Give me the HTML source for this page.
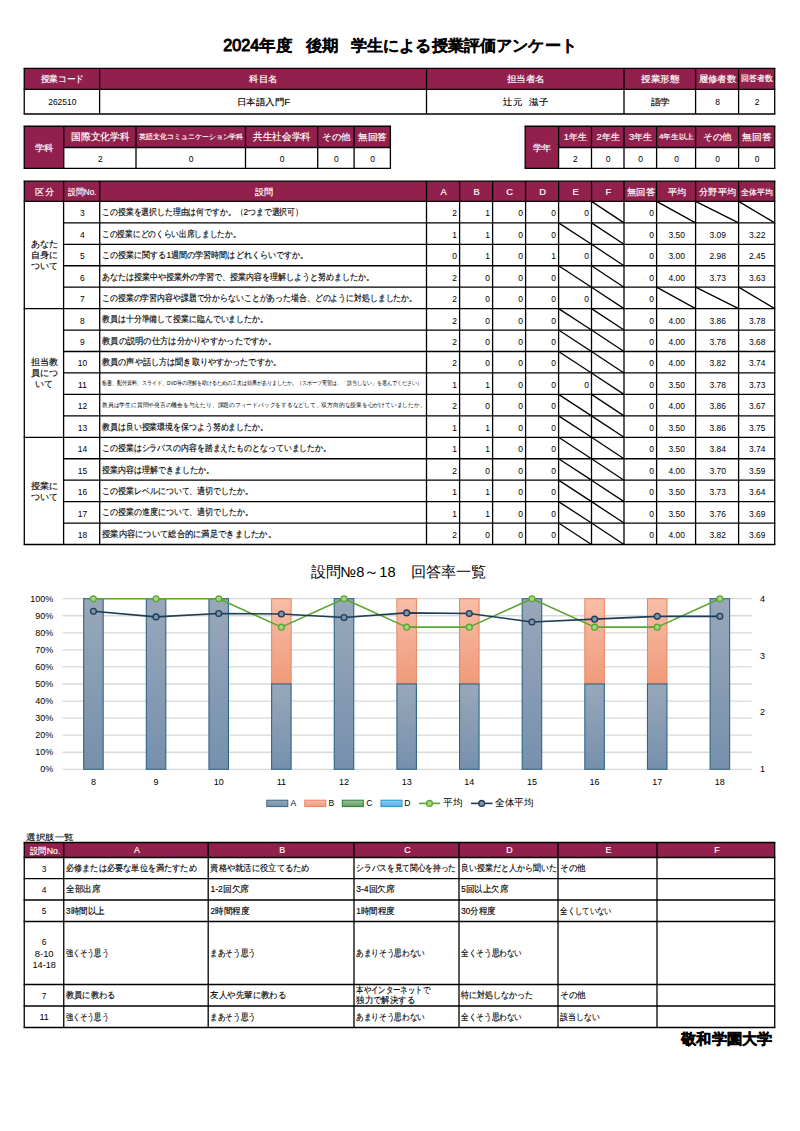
<!DOCTYPE html>
<html lang="ja">
<head>
<meta charset="utf-8">
<title>2024年度 後期 学生による授業評価アンケート</title>
<style>html,body{margin:0;padding:0;background:#fff}body{width:800px;height:1131px;overflow:hidden;font-family:"Liberation Sans",sans-serif}svg{display:block;position:absolute;left:0;top:0}text{font-family:"Liberation Sans",sans-serif;fill:#000;white-space:pre}text{stroke:#000;stroke-width:.14px}text.w{fill:#fff;stroke:#fff;stroke-width:.18px}text.b{stroke-width:1px;stroke-linejoin:round}text.b2{stroke-width:1.2px;stroke-linejoin:round}text.n{stroke:none}</style>
</head>
<body>
<svg width="800" height="1131" viewBox="0 0 800 1131">
<rect x="24.25" y="68.3" width="750.45" height="21.1" fill="#92204c"/>
<line x1="24.25" y1="68.3" x2="24.25" y2="114" stroke="#000" stroke-width="1.3"/>
<line x1="99.6" y1="68.3" x2="99.6" y2="114" stroke="#000" stroke-width="1.3"/>
<line x1="426.5" y1="68.3" x2="426.5" y2="114" stroke="#000" stroke-width="1.3"/>
<line x1="624" y1="68.3" x2="624" y2="114" stroke="#000" stroke-width="1.3"/>
<line x1="695.6" y1="68.3" x2="695.6" y2="114" stroke="#000" stroke-width="1.3"/>
<line x1="738.6" y1="68.3" x2="738.6" y2="114" stroke="#000" stroke-width="1.3"/>
<line x1="774.7" y1="68.3" x2="774.7" y2="114" stroke="#000" stroke-width="1.3"/>
<line x1="23.6" y1="68.3" x2="775.35" y2="68.3" stroke="#000" stroke-width="1.3"/>
<line x1="23.6" y1="89.4" x2="775.35" y2="89.4" stroke="#000" stroke-width="1.3"/>
<line x1="23.6" y1="114" x2="775.35" y2="114" stroke="#000" stroke-width="1.3"/>
<rect x="24.25" y="126.25" width="39.5" height="42.05" fill="#92204c"/>
<rect x="63.75" y="126.25" width="326.65" height="21.25" fill="#92204c"/>
<line x1="24.25" y1="126.25" x2="24.25" y2="168.3" stroke="#000" stroke-width="1.3"/>
<line x1="63.75" y1="126.25" x2="63.75" y2="168.3" stroke="#000" stroke-width="1.3"/>
<line x1="136" y1="126.25" x2="136" y2="168.3" stroke="#000" stroke-width="1.3"/>
<line x1="245.5" y1="126.25" x2="245.5" y2="168.3" stroke="#000" stroke-width="1.3"/>
<line x1="317.7" y1="126.25" x2="317.7" y2="168.3" stroke="#000" stroke-width="1.3"/>
<line x1="354.1" y1="126.25" x2="354.1" y2="168.3" stroke="#000" stroke-width="1.3"/>
<line x1="390.4" y1="126.25" x2="390.4" y2="168.3" stroke="#000" stroke-width="1.3"/>
<line x1="23.6" y1="126.25" x2="391.05" y2="126.25" stroke="#000" stroke-width="1.3"/>
<line x1="23.6" y1="168.3" x2="391.05" y2="168.3" stroke="#000" stroke-width="1.3"/>
<line x1="63.75" y1="147.5" x2="390.4" y2="147.5" stroke="#000" stroke-width="1.3"/>
<rect x="525.2" y="126.25" width="33.4" height="42.05" fill="#92204c"/>
<rect x="558.6" y="126.25" width="216.1" height="21.25" fill="#92204c"/>
<line x1="525.2" y1="126.25" x2="525.2" y2="168.3" stroke="#000" stroke-width="1.3"/>
<line x1="558.6" y1="126.25" x2="558.6" y2="168.3" stroke="#000" stroke-width="1.3"/>
<line x1="591.5" y1="126.25" x2="591.5" y2="168.3" stroke="#000" stroke-width="1.3"/>
<line x1="624" y1="126.25" x2="624" y2="168.3" stroke="#000" stroke-width="1.3"/>
<line x1="656.6" y1="126.25" x2="656.6" y2="168.3" stroke="#000" stroke-width="1.3"/>
<line x1="695.6" y1="126.25" x2="695.6" y2="168.3" stroke="#000" stroke-width="1.3"/>
<line x1="738.6" y1="126.25" x2="738.6" y2="168.3" stroke="#000" stroke-width="1.3"/>
<line x1="774.7" y1="126.25" x2="774.7" y2="168.3" stroke="#000" stroke-width="1.3"/>
<line x1="524.55" y1="126.25" x2="775.35" y2="126.25" stroke="#000" stroke-width="1.3"/>
<line x1="524.55" y1="168.3" x2="775.35" y2="168.3" stroke="#000" stroke-width="1.3"/>
<line x1="558.6" y1="147.5" x2="774.7" y2="147.5" stroke="#000" stroke-width="1.3"/>
<rect x="24.3" y="181.1" width="750.4" height="20.3" fill="#92204c"/>
<line x1="24.3" y1="181.1" x2="24.3" y2="544.5" stroke="#000" stroke-width="1.3"/>
<line x1="63.6" y1="181.1" x2="63.6" y2="544.5" stroke="#000" stroke-width="1.3"/>
<line x1="99.7" y1="181.1" x2="99.7" y2="544.5" stroke="#000" stroke-width="1.3"/>
<line x1="426.5" y1="181.1" x2="426.5" y2="544.5" stroke="#000" stroke-width="1.3"/>
<line x1="459.6" y1="181.1" x2="459.6" y2="544.5" stroke="#000" stroke-width="1.3"/>
<line x1="492.6" y1="181.1" x2="492.6" y2="544.5" stroke="#000" stroke-width="1.3"/>
<line x1="525.6" y1="181.1" x2="525.6" y2="544.5" stroke="#000" stroke-width="1.3"/>
<line x1="558.6" y1="181.1" x2="558.6" y2="544.5" stroke="#000" stroke-width="1.3"/>
<line x1="591.5" y1="181.1" x2="591.5" y2="544.5" stroke="#000" stroke-width="1.3"/>
<line x1="624" y1="181.1" x2="624" y2="544.5" stroke="#000" stroke-width="1.3"/>
<line x1="656.6" y1="181.1" x2="656.6" y2="544.5" stroke="#000" stroke-width="1.3"/>
<line x1="695.6" y1="181.1" x2="695.6" y2="544.5" stroke="#000" stroke-width="1.3"/>
<line x1="738.6" y1="181.1" x2="738.6" y2="544.5" stroke="#000" stroke-width="1.3"/>
<line x1="774.7" y1="181.1" x2="774.7" y2="544.5" stroke="#000" stroke-width="1.3"/>
<line x1="23.65" y1="181.1" x2="775.35" y2="181.1" stroke="#000" stroke-width="1.3"/>
<line x1="23.65" y1="201.4" x2="775.35" y2="201.4" stroke="#000" stroke-width="1.3"/>
<line x1="63.6" y1="222.844" x2="775.35" y2="222.844" stroke="#000" stroke-width="1.3"/>
<line x1="63.6" y1="244.288" x2="775.35" y2="244.288" stroke="#000" stroke-width="1.3"/>
<line x1="63.6" y1="265.731" x2="775.35" y2="265.731" stroke="#000" stroke-width="1.3"/>
<line x1="63.6" y1="287.175" x2="775.35" y2="287.175" stroke="#000" stroke-width="1.3"/>
<line x1="23.65" y1="308.619" x2="775.35" y2="308.619" stroke="#000" stroke-width="1.3"/>
<line x1="63.6" y1="330.062" x2="775.35" y2="330.062" stroke="#000" stroke-width="1.3"/>
<line x1="63.6" y1="351.506" x2="775.35" y2="351.506" stroke="#000" stroke-width="1.3"/>
<line x1="63.6" y1="372.95" x2="775.35" y2="372.95" stroke="#000" stroke-width="1.3"/>
<line x1="63.6" y1="394.394" x2="775.35" y2="394.394" stroke="#000" stroke-width="1.3"/>
<line x1="63.6" y1="415.837" x2="775.35" y2="415.837" stroke="#000" stroke-width="1.3"/>
<line x1="23.65" y1="437.281" x2="775.35" y2="437.281" stroke="#000" stroke-width="1.3"/>
<line x1="63.6" y1="458.725" x2="775.35" y2="458.725" stroke="#000" stroke-width="1.3"/>
<line x1="63.6" y1="480.169" x2="775.35" y2="480.169" stroke="#000" stroke-width="1.3"/>
<line x1="63.6" y1="501.613" x2="775.35" y2="501.613" stroke="#000" stroke-width="1.3"/>
<line x1="63.6" y1="523.056" x2="775.35" y2="523.056" stroke="#000" stroke-width="1.3"/>
<line x1="23.65" y1="544.5" x2="775.35" y2="544.5" stroke="#000" stroke-width="1.3"/>
<line x1="591.5" y1="201.4" x2="624" y2="222.844" stroke="#000" stroke-width="1.3"/>
<line x1="656.6" y1="201.4" x2="695.6" y2="222.844" stroke="#000" stroke-width="1.3"/>
<line x1="695.6" y1="201.4" x2="738.6" y2="222.844" stroke="#000" stroke-width="1.3"/>
<line x1="738.6" y1="201.4" x2="774.7" y2="222.844" stroke="#000" stroke-width="1.3"/>
<line x1="558.6" y1="222.844" x2="591.5" y2="244.288" stroke="#000" stroke-width="1.3"/>
<line x1="591.5" y1="222.844" x2="624" y2="244.288" stroke="#000" stroke-width="1.3"/>
<line x1="591.5" y1="244.288" x2="624" y2="265.731" stroke="#000" stroke-width="1.3"/>
<line x1="558.6" y1="265.731" x2="591.5" y2="287.175" stroke="#000" stroke-width="1.3"/>
<line x1="591.5" y1="265.731" x2="624" y2="287.175" stroke="#000" stroke-width="1.3"/>
<line x1="591.5" y1="287.175" x2="624" y2="308.619" stroke="#000" stroke-width="1.3"/>
<line x1="656.6" y1="287.175" x2="695.6" y2="308.619" stroke="#000" stroke-width="1.3"/>
<line x1="695.6" y1="287.175" x2="738.6" y2="308.619" stroke="#000" stroke-width="1.3"/>
<line x1="738.6" y1="287.175" x2="774.7" y2="308.619" stroke="#000" stroke-width="1.3"/>
<line x1="558.6" y1="308.619" x2="591.5" y2="330.062" stroke="#000" stroke-width="1.3"/>
<line x1="591.5" y1="308.619" x2="624" y2="330.062" stroke="#000" stroke-width="1.3"/>
<line x1="558.6" y1="330.062" x2="591.5" y2="351.506" stroke="#000" stroke-width="1.3"/>
<line x1="591.5" y1="330.062" x2="624" y2="351.506" stroke="#000" stroke-width="1.3"/>
<line x1="558.6" y1="351.506" x2="591.5" y2="372.95" stroke="#000" stroke-width="1.3"/>
<line x1="591.5" y1="351.506" x2="624" y2="372.95" stroke="#000" stroke-width="1.3"/>
<line x1="591.5" y1="372.95" x2="624" y2="394.394" stroke="#000" stroke-width="1.3"/>
<line x1="558.6" y1="394.394" x2="591.5" y2="415.837" stroke="#000" stroke-width="1.3"/>
<line x1="591.5" y1="394.394" x2="624" y2="415.837" stroke="#000" stroke-width="1.3"/>
<line x1="558.6" y1="415.837" x2="591.5" y2="437.281" stroke="#000" stroke-width="1.3"/>
<line x1="591.5" y1="415.837" x2="624" y2="437.281" stroke="#000" stroke-width="1.3"/>
<line x1="558.6" y1="437.281" x2="591.5" y2="458.725" stroke="#000" stroke-width="1.3"/>
<line x1="591.5" y1="437.281" x2="624" y2="458.725" stroke="#000" stroke-width="1.3"/>
<line x1="558.6" y1="458.725" x2="591.5" y2="480.169" stroke="#000" stroke-width="1.3"/>
<line x1="591.5" y1="458.725" x2="624" y2="480.169" stroke="#000" stroke-width="1.3"/>
<line x1="558.6" y1="480.169" x2="591.5" y2="501.613" stroke="#000" stroke-width="1.3"/>
<line x1="591.5" y1="480.169" x2="624" y2="501.613" stroke="#000" stroke-width="1.3"/>
<line x1="558.6" y1="501.613" x2="591.5" y2="523.056" stroke="#000" stroke-width="1.3"/>
<line x1="591.5" y1="501.613" x2="624" y2="523.056" stroke="#000" stroke-width="1.3"/>
<line x1="558.6" y1="523.056" x2="591.5" y2="544.5" stroke="#000" stroke-width="1.3"/>
<line x1="591.5" y1="523.056" x2="624" y2="544.5" stroke="#000" stroke-width="1.3"/>
<defs><linearGradient id="gA" x1="0" y1="0" x2="0" y2="1"><stop offset="0" stop-color="#98a8ba"/><stop offset="1" stop-color="#7690ac"/></linearGradient><linearGradient id="gB" x1="0" y1="0" x2="0" y2="1"><stop offset="0" stop-color="#f8bea8"/><stop offset="1" stop-color="#ef9a7a"/></linearGradient><linearGradient id="gC" x1="0" y1="0" x2="0" y2="1"><stop offset="0" stop-color="#9cc79a"/><stop offset="1" stop-color="#5f9a60"/></linearGradient><linearGradient id="gD" x1="0" y1="0" x2="0" y2="1"><stop offset="0" stop-color="#8fd0f5"/><stop offset="1" stop-color="#4fb0ea"/></linearGradient></defs>
<line x1="62.4" y1="769.3" x2="751.8" y2="769.3" stroke="#d9d9d9" stroke-width="1.3"/>
<line x1="62.4" y1="752.24" x2="751.8" y2="752.24" stroke="#d9d9d9" stroke-width="1.3"/>
<line x1="62.4" y1="735.18" x2="751.8" y2="735.18" stroke="#d9d9d9" stroke-width="1.3"/>
<line x1="62.4" y1="718.12" x2="751.8" y2="718.12" stroke="#d9d9d9" stroke-width="1.3"/>
<line x1="62.4" y1="701.06" x2="751.8" y2="701.06" stroke="#d9d9d9" stroke-width="1.3"/>
<line x1="62.4" y1="684" x2="751.8" y2="684" stroke="#d9d9d9" stroke-width="1.3"/>
<line x1="62.4" y1="666.94" x2="751.8" y2="666.94" stroke="#d9d9d9" stroke-width="1.3"/>
<line x1="62.4" y1="649.88" x2="751.8" y2="649.88" stroke="#d9d9d9" stroke-width="1.3"/>
<line x1="62.4" y1="632.82" x2="751.8" y2="632.82" stroke="#d9d9d9" stroke-width="1.3"/>
<line x1="62.4" y1="615.76" x2="751.8" y2="615.76" stroke="#d9d9d9" stroke-width="1.3"/>
<line x1="62.4" y1="598.7" x2="751.8" y2="598.7" stroke="#d9d9d9" stroke-width="1.3"/>
<rect x="83.67" y="598.70" width="19.5" height="170.60" fill="url(#gA)" stroke="#2f6488" stroke-width="1.1"/>
<rect x="146.32" y="598.70" width="19.5" height="170.60" fill="url(#gA)" stroke="#2f6488" stroke-width="1.1"/>
<rect x="208.96" y="598.70" width="19.5" height="170.60" fill="url(#gA)" stroke="#2f6488" stroke-width="1.1"/>
<rect x="271.61" y="598.7" width="19.5" height="85.30" fill="url(#gB)" stroke="#e9825c" stroke-width="1"/>
<rect x="271.61" y="684.00" width="19.5" height="85.30" fill="url(#gA)" stroke="#2f6488" stroke-width="1.1"/>
<rect x="334.25" y="598.70" width="19.5" height="170.60" fill="url(#gA)" stroke="#2f6488" stroke-width="1.1"/>
<rect x="396.90" y="598.7" width="19.5" height="85.30" fill="url(#gB)" stroke="#e9825c" stroke-width="1"/>
<rect x="396.90" y="684.00" width="19.5" height="85.30" fill="url(#gA)" stroke="#2f6488" stroke-width="1.1"/>
<rect x="459.55" y="598.7" width="19.5" height="85.30" fill="url(#gB)" stroke="#e9825c" stroke-width="1"/>
<rect x="459.55" y="684.00" width="19.5" height="85.30" fill="url(#gA)" stroke="#2f6488" stroke-width="1.1"/>
<rect x="522.19" y="598.70" width="19.5" height="170.60" fill="url(#gA)" stroke="#2f6488" stroke-width="1.1"/>
<rect x="584.84" y="598.7" width="19.5" height="85.30" fill="url(#gB)" stroke="#e9825c" stroke-width="1"/>
<rect x="584.84" y="684.00" width="19.5" height="85.30" fill="url(#gA)" stroke="#2f6488" stroke-width="1.1"/>
<rect x="647.48" y="598.7" width="19.5" height="85.30" fill="url(#gB)" stroke="#e9825c" stroke-width="1"/>
<rect x="647.48" y="684.00" width="19.5" height="85.30" fill="url(#gA)" stroke="#2f6488" stroke-width="1.1"/>
<rect x="710.13" y="598.70" width="19.5" height="170.60" fill="url(#gA)" stroke="#2f6488" stroke-width="1.1"/>
<polyline points="93.42,598.70 156.07,598.70 218.71,598.70 281.36,627.13 344.00,598.70 406.65,627.13 469.30,627.13 531.94,598.70 594.59,627.13 657.23,627.13 719.88,598.70" fill="none" stroke="#5aa532" stroke-width="1.6" stroke-linejoin="round"/>
<polyline points="93.42,611.21 156.07,616.90 218.71,613.49 281.36,614.05 344.00,617.47 406.65,612.92 469.30,613.49 531.94,622.02 594.59,619.17 657.23,616.33 719.88,616.33" fill="none" stroke="#1d3c57" stroke-width="1.6" stroke-linejoin="round"/>
<circle cx="93.42" cy="598.70" r="2.9" fill="#a6d77b" stroke="#5aa532" stroke-width="1.3"/>
<circle cx="156.07" cy="598.70" r="2.9" fill="#a6d77b" stroke="#5aa532" stroke-width="1.3"/>
<circle cx="218.71" cy="598.70" r="2.9" fill="#a6d77b" stroke="#5aa532" stroke-width="1.3"/>
<circle cx="281.36" cy="627.13" r="2.9" fill="#a6d77b" stroke="#5aa532" stroke-width="1.3"/>
<circle cx="344.00" cy="598.70" r="2.9" fill="#a6d77b" stroke="#5aa532" stroke-width="1.3"/>
<circle cx="406.65" cy="627.13" r="2.9" fill="#a6d77b" stroke="#5aa532" stroke-width="1.3"/>
<circle cx="469.30" cy="627.13" r="2.9" fill="#a6d77b" stroke="#5aa532" stroke-width="1.3"/>
<circle cx="531.94" cy="598.70" r="2.9" fill="#a6d77b" stroke="#5aa532" stroke-width="1.3"/>
<circle cx="594.59" cy="627.13" r="2.9" fill="#a6d77b" stroke="#5aa532" stroke-width="1.3"/>
<circle cx="657.23" cy="627.13" r="2.9" fill="#a6d77b" stroke="#5aa532" stroke-width="1.3"/>
<circle cx="719.88" cy="598.70" r="2.9" fill="#a6d77b" stroke="#5aa532" stroke-width="1.3"/>
<circle cx="93.42" cy="611.21" r="2.9" fill="#7f93a8" stroke="#1d3c57" stroke-width="1.3"/>
<circle cx="156.07" cy="616.90" r="2.9" fill="#7f93a8" stroke="#1d3c57" stroke-width="1.3"/>
<circle cx="218.71" cy="613.49" r="2.9" fill="#7f93a8" stroke="#1d3c57" stroke-width="1.3"/>
<circle cx="281.36" cy="614.05" r="2.9" fill="#7f93a8" stroke="#1d3c57" stroke-width="1.3"/>
<circle cx="344.00" cy="617.47" r="2.9" fill="#7f93a8" stroke="#1d3c57" stroke-width="1.3"/>
<circle cx="406.65" cy="612.92" r="2.9" fill="#7f93a8" stroke="#1d3c57" stroke-width="1.3"/>
<circle cx="469.30" cy="613.49" r="2.9" fill="#7f93a8" stroke="#1d3c57" stroke-width="1.3"/>
<circle cx="531.94" cy="622.02" r="2.9" fill="#7f93a8" stroke="#1d3c57" stroke-width="1.3"/>
<circle cx="594.59" cy="619.17" r="2.9" fill="#7f93a8" stroke="#1d3c57" stroke-width="1.3"/>
<circle cx="657.23" cy="616.33" r="2.9" fill="#7f93a8" stroke="#1d3c57" stroke-width="1.3"/>
<circle cx="719.88" cy="616.33" r="2.9" fill="#7f93a8" stroke="#1d3c57" stroke-width="1.3"/>
<rect x="266.8" y="800.2" width="21" height="6.4" fill="url(#gA)" stroke="#2f6b8e" stroke-width="1"/>
<rect x="304.8" y="800.2" width="21" height="6.4" fill="url(#gB)" stroke="#e9825c" stroke-width="1"/>
<rect x="342.3" y="800.2" width="21" height="6.4" fill="url(#gC)" stroke="#2f7a3a" stroke-width="1"/>
<rect x="381" y="800.2" width="21" height="6.4" fill="url(#gD)" stroke="#2a8fd0" stroke-width="1"/>
<line x1="419" y1="803.4" x2="440" y2="803.4" stroke="#5aa532" stroke-width="1.6"/>
<circle cx="429.5" cy="803.4" r="2.9" fill="#a6d77b" stroke="#5aa532" stroke-width="1.3"/>
<line x1="471" y1="803.4" x2="492.5" y2="803.4" stroke="#1d3c57" stroke-width="1.6"/>
<circle cx="481.7" cy="803.4" r="2.9" fill="#7f93a8" stroke="#1d3c57" stroke-width="1.3"/>
<rect x="24.25" y="842.5" width="750.45" height="15" fill="#92204c"/>
<line x1="24.25" y1="842.5" x2="24.25" y2="1027.5" stroke="#000" stroke-width="1.3"/>
<line x1="63.75" y1="842.5" x2="63.75" y2="1027.5" stroke="#000" stroke-width="1.3"/>
<line x1="208.2" y1="842.5" x2="208.2" y2="1027.5" stroke="#000" stroke-width="1.3"/>
<line x1="354" y1="842.5" x2="354" y2="1027.5" stroke="#000" stroke-width="1.3"/>
<line x1="459" y1="842.5" x2="459" y2="1027.5" stroke="#000" stroke-width="1.3"/>
<line x1="558" y1="842.5" x2="558" y2="1027.5" stroke="#000" stroke-width="1.3"/>
<line x1="657" y1="842.5" x2="657" y2="1027.5" stroke="#000" stroke-width="1.3"/>
<line x1="774.7" y1="842.5" x2="774.7" y2="1027.5" stroke="#000" stroke-width="1.3"/>
<line x1="23.6" y1="842.5" x2="775.35" y2="842.5" stroke="#000" stroke-width="1.3"/>
<line x1="23.6" y1="857.5" x2="775.35" y2="857.5" stroke="#000" stroke-width="1.3"/>
<line x1="23.6" y1="878.7" x2="775.35" y2="878.7" stroke="#000" stroke-width="1.3"/>
<line x1="23.6" y1="900" x2="775.35" y2="900" stroke="#000" stroke-width="1.3"/>
<line x1="23.6" y1="921.5" x2="775.35" y2="921.5" stroke="#000" stroke-width="1.3"/>
<line x1="23.6" y1="984.5" x2="775.35" y2="984.5" stroke="#000" stroke-width="1.3"/>
<line x1="23.6" y1="1006" x2="775.35" y2="1006" stroke="#000" stroke-width="1.3"/>
<line x1="23.6" y1="1027.5" x2="775.35" y2="1027.5" stroke="#000" stroke-width="1.3"/>
<text x="223.30" y="50.74" font-size="16" textLength="36.0" lengthAdjust="spacingAndGlyphs" class="b">2024</text>
<text x="259.30" y="50.74" font-size="16" textLength="33.0" lengthAdjust="spacingAndGlyphs" class="b">年度</text>
<text x="305.80" y="50.74" font-size="16" textLength="33.0" lengthAdjust="spacingAndGlyphs" class="b">後期</text>
<text x="350.80" y="50.74" font-size="16" textLength="226.0" lengthAdjust="spacingAndGlyphs" class="b">学生による授業評価アンケート</text>
<text x="62.32" y="81.95" font-size="9.4" text-anchor="middle" textLength="43.3" lengthAdjust="spacingAndGlyphs" class="w">授業コード</text>
<text x="263.45" y="81.95" font-size="9.4" text-anchor="middle" textLength="28.2" lengthAdjust="spacingAndGlyphs" class="w">科目名</text>
<text x="525.65" y="81.95" font-size="9.4" text-anchor="middle" textLength="38.3" lengthAdjust="spacingAndGlyphs" class="w">担当者名</text>
<text x="660.20" y="81.95" font-size="9.4" text-anchor="middle" textLength="38.3" lengthAdjust="spacingAndGlyphs" class="w">授業形態</text>
<text x="717.50" y="81.95" font-size="9.4" text-anchor="middle" textLength="37.8" lengthAdjust="spacingAndGlyphs" class="w">履修者数</text>
<text x="757.05" y="81.40" font-size="7.8" text-anchor="middle" textLength="31.6" lengthAdjust="spacingAndGlyphs" class="w">回答者数</text>
<text x="62.32" y="105.00" font-size="9.4" text-anchor="middle" textLength="28.2" lengthAdjust="spacingAndGlyphs" class="n">262510</text>
<text x="263.65" y="105.00" font-size="9.4" text-anchor="middle" textLength="53.3" lengthAdjust="spacingAndGlyphs">日本語入門F</text>
<text x="503.20" y="105.00" font-size="9.4" textLength="18.8" lengthAdjust="spacingAndGlyphs">辻元</text>
<text x="529.20" y="105.00" font-size="9.4" textLength="18.8" lengthAdjust="spacingAndGlyphs">滋子</text>
<text x="660.40" y="105.00" font-size="9.4" text-anchor="middle" textLength="19.6" lengthAdjust="spacingAndGlyphs">語学</text>
<text x="717.70" y="105.00" font-size="9.4" text-anchor="middle" textLength="4.7" lengthAdjust="spacingAndGlyphs" class="n">8</text>
<text x="757.05" y="105.00" font-size="9.4" text-anchor="middle" textLength="4.7" lengthAdjust="spacingAndGlyphs" class="n">2</text>
<text x="44.50" y="150.57" font-size="9.4" text-anchor="middle" textLength="18.8" lengthAdjust="spacingAndGlyphs" class="w">学科</text>
<text x="100.28" y="140.04" font-size="9.6" text-anchor="middle" textLength="58.2" lengthAdjust="spacingAndGlyphs" class="w">国際文化学科</text>
<text x="100.28" y="161.70" font-size="9.4" text-anchor="middle" textLength="4.7" lengthAdjust="spacingAndGlyphs" class="n">2</text>
<text x="191.15" y="139.29" font-size="7.4" text-anchor="middle" textLength="104.6" lengthAdjust="spacingAndGlyphs" class="w">英語文化コミュニケーション学科</text>
<text x="191.15" y="161.70" font-size="9.4" text-anchor="middle" textLength="4.7" lengthAdjust="spacingAndGlyphs" class="n">0</text>
<text x="282.00" y="140.00" font-size="9.5" text-anchor="middle" textLength="57.3" lengthAdjust="spacingAndGlyphs" class="w">共生社会学科</text>
<text x="282.00" y="161.70" font-size="9.4" text-anchor="middle" textLength="4.7" lengthAdjust="spacingAndGlyphs" class="n">0</text>
<text x="336.30" y="139.97" font-size="9.4" text-anchor="middle" textLength="28.4" lengthAdjust="spacingAndGlyphs" class="w">その他</text>
<text x="336.30" y="161.70" font-size="9.4" text-anchor="middle" textLength="4.7" lengthAdjust="spacingAndGlyphs" class="n">0</text>
<text x="372.65" y="139.97" font-size="9.4" text-anchor="middle" textLength="29.0" lengthAdjust="spacingAndGlyphs" class="w">無回答</text>
<text x="372.65" y="161.70" font-size="9.4" text-anchor="middle" textLength="4.7" lengthAdjust="spacingAndGlyphs" class="n">0</text>
<text x="542.40" y="150.57" font-size="9.4" text-anchor="middle" textLength="18.3" lengthAdjust="spacingAndGlyphs" class="w">学年</text>
<text x="575.45" y="139.97" font-size="9.4" text-anchor="middle" textLength="23.2" lengthAdjust="spacingAndGlyphs" class="w">1年生</text>
<text x="575.45" y="161.70" font-size="9.4" text-anchor="middle" textLength="4.7" lengthAdjust="spacingAndGlyphs" class="n">2</text>
<text x="608.15" y="139.97" font-size="9.4" text-anchor="middle" textLength="23.2" lengthAdjust="spacingAndGlyphs" class="w">2年生</text>
<text x="608.15" y="161.70" font-size="9.4" text-anchor="middle" textLength="4.7" lengthAdjust="spacingAndGlyphs" class="n">0</text>
<text x="640.70" y="139.97" font-size="9.4" text-anchor="middle" textLength="23.2" lengthAdjust="spacingAndGlyphs" class="w">3年生</text>
<text x="640.70" y="161.70" font-size="9.4" text-anchor="middle" textLength="4.7" lengthAdjust="spacingAndGlyphs" class="n">0</text>
<text x="676.50" y="139.26" font-size="7.3" text-anchor="middle" textLength="35.1" lengthAdjust="spacingAndGlyphs" class="w">4年生以上</text>
<text x="676.50" y="161.70" font-size="9.4" text-anchor="middle" textLength="4.7" lengthAdjust="spacingAndGlyphs" class="n">0</text>
<text x="717.50" y="139.97" font-size="9.4" text-anchor="middle" textLength="28.4" lengthAdjust="spacingAndGlyphs" class="w">その他</text>
<text x="717.50" y="161.70" font-size="9.4" text-anchor="middle" textLength="4.7" lengthAdjust="spacingAndGlyphs" class="n">0</text>
<text x="757.05" y="139.97" font-size="9.4" text-anchor="middle" textLength="29.2" lengthAdjust="spacingAndGlyphs" class="w">無回答</text>
<text x="757.05" y="161.70" font-size="9.4" text-anchor="middle" textLength="4.7" lengthAdjust="spacingAndGlyphs" class="n">0</text>
<text x="44.55" y="195.30" font-size="9.4" text-anchor="middle" textLength="18.3" lengthAdjust="spacingAndGlyphs" class="w">区分</text>
<text x="82.25" y="195.30" font-size="9.4" text-anchor="middle" textLength="28.6" lengthAdjust="spacingAndGlyphs" class="w">設問No.</text>
<text x="263.70" y="195.30" font-size="9.4" text-anchor="middle" textLength="18.3" lengthAdjust="spacingAndGlyphs" class="w">設問</text>
<text x="443.65" y="195.30" font-size="9.4" text-anchor="middle" class="w">A</text>
<text x="476.70" y="195.30" font-size="9.4" text-anchor="middle" class="w">B</text>
<text x="509.70" y="195.30" font-size="9.4" text-anchor="middle" class="w">C</text>
<text x="542.70" y="195.30" font-size="9.4" text-anchor="middle" class="w">D</text>
<text x="575.65" y="195.30" font-size="9.4" text-anchor="middle" class="w">E</text>
<text x="608.35" y="195.30" font-size="9.4" text-anchor="middle" class="w">F</text>
<text x="640.90" y="195.30" font-size="9.4" text-anchor="middle" textLength="28.3" lengthAdjust="spacingAndGlyphs" class="w">無回答</text>
<text x="676.70" y="195.30" font-size="9.4" text-anchor="middle" textLength="18.3" lengthAdjust="spacingAndGlyphs" class="w">平均</text>
<text x="717.70" y="195.30" font-size="9.4" text-anchor="middle" textLength="36.8" lengthAdjust="spacingAndGlyphs" class="w">分野平均</text>
<text x="757.25" y="194.75" font-size="7.8" text-anchor="middle" textLength="31.6" lengthAdjust="spacingAndGlyphs" class="w">全体平均</text>
<text x="82.45" y="216.32" font-size="9.4" text-anchor="middle" textLength="4.7" lengthAdjust="spacingAndGlyphs" class="n">3</text>
<text x="102.10" y="215.22" font-size="9.4" textLength="200.9" lengthAdjust="spacingAndGlyphs">この授業を選択した理由は何ですか。（2つまで選択可）</text>
<text x="457.00" y="216.32" font-size="9.4" text-anchor="end" textLength="4.7" lengthAdjust="spacingAndGlyphs" class="n">2</text>
<text x="490.00" y="216.32" font-size="9.4" text-anchor="end" textLength="4.7" lengthAdjust="spacingAndGlyphs" class="n">1</text>
<text x="523.00" y="216.32" font-size="9.4" text-anchor="end" textLength="4.7" lengthAdjust="spacingAndGlyphs" class="n">0</text>
<text x="556.00" y="216.32" font-size="9.4" text-anchor="end" textLength="4.7" lengthAdjust="spacingAndGlyphs" class="n">0</text>
<text x="588.90" y="216.32" font-size="9.4" text-anchor="end" textLength="4.7" lengthAdjust="spacingAndGlyphs" class="n">0</text>
<text x="654.00" y="216.32" font-size="9.4" text-anchor="end" textLength="4.7" lengthAdjust="spacingAndGlyphs" class="n">0</text>
<text x="82.45" y="237.76" font-size="9.4" text-anchor="middle" textLength="4.7" lengthAdjust="spacingAndGlyphs" class="n">4</text>
<text x="102.10" y="236.66" font-size="9.4" textLength="138.4" lengthAdjust="spacingAndGlyphs">この授業にどのくらい出席しましたか。</text>
<text x="457.00" y="237.76" font-size="9.4" text-anchor="end" textLength="4.7" lengthAdjust="spacingAndGlyphs" class="n">1</text>
<text x="490.00" y="237.76" font-size="9.4" text-anchor="end" textLength="4.7" lengthAdjust="spacingAndGlyphs" class="n">1</text>
<text x="523.00" y="237.76" font-size="9.4" text-anchor="end" textLength="4.7" lengthAdjust="spacingAndGlyphs" class="n">0</text>
<text x="556.00" y="237.76" font-size="9.4" text-anchor="end" textLength="4.7" lengthAdjust="spacingAndGlyphs" class="n">0</text>
<text x="654.00" y="237.76" font-size="9.4" text-anchor="end" textLength="4.7" lengthAdjust="spacingAndGlyphs" class="n">0</text>
<text x="676.70" y="237.76" font-size="9.4" text-anchor="middle" textLength="16.4" lengthAdjust="spacingAndGlyphs" class="n">3.50</text>
<text x="717.70" y="237.76" font-size="9.4" text-anchor="middle" textLength="16.4" lengthAdjust="spacingAndGlyphs" class="n">3.09</text>
<text x="757.25" y="237.76" font-size="9.4" text-anchor="middle" textLength="16.4" lengthAdjust="spacingAndGlyphs" class="n">3.22</text>
<text x="82.45" y="259.21" font-size="9.4" text-anchor="middle" textLength="4.7" lengthAdjust="spacingAndGlyphs" class="n">5</text>
<text x="102.10" y="258.11" font-size="9.4" textLength="205.9" lengthAdjust="spacingAndGlyphs">この授業に関する1週間の学習時間はどれくらいですか。</text>
<text x="457.00" y="259.21" font-size="9.4" text-anchor="end" textLength="4.7" lengthAdjust="spacingAndGlyphs" class="n">0</text>
<text x="490.00" y="259.21" font-size="9.4" text-anchor="end" textLength="4.7" lengthAdjust="spacingAndGlyphs" class="n">1</text>
<text x="523.00" y="259.21" font-size="9.4" text-anchor="end" textLength="4.7" lengthAdjust="spacingAndGlyphs" class="n">0</text>
<text x="556.00" y="259.21" font-size="9.4" text-anchor="end" textLength="4.7" lengthAdjust="spacingAndGlyphs" class="n">1</text>
<text x="588.90" y="259.21" font-size="9.4" text-anchor="end" textLength="4.7" lengthAdjust="spacingAndGlyphs" class="n">0</text>
<text x="654.00" y="259.21" font-size="9.4" text-anchor="end" textLength="4.7" lengthAdjust="spacingAndGlyphs" class="n">0</text>
<text x="676.70" y="259.21" font-size="9.4" text-anchor="middle" textLength="16.4" lengthAdjust="spacingAndGlyphs" class="n">3.00</text>
<text x="717.70" y="259.21" font-size="9.4" text-anchor="middle" textLength="16.4" lengthAdjust="spacingAndGlyphs" class="n">2.98</text>
<text x="757.25" y="259.21" font-size="9.4" text-anchor="middle" textLength="16.4" lengthAdjust="spacingAndGlyphs" class="n">2.45</text>
<text x="82.45" y="280.65" font-size="9.4" text-anchor="middle" textLength="4.7" lengthAdjust="spacingAndGlyphs" class="n">6</text>
<text x="102.10" y="279.55" font-size="9.4" textLength="272.4" lengthAdjust="spacingAndGlyphs">あなたは授業中や授業外の学習で、授業内容を理解しようと努めましたか。</text>
<text x="457.00" y="280.65" font-size="9.4" text-anchor="end" textLength="4.7" lengthAdjust="spacingAndGlyphs" class="n">2</text>
<text x="490.00" y="280.65" font-size="9.4" text-anchor="end" textLength="4.7" lengthAdjust="spacingAndGlyphs" class="n">0</text>
<text x="523.00" y="280.65" font-size="9.4" text-anchor="end" textLength="4.7" lengthAdjust="spacingAndGlyphs" class="n">0</text>
<text x="556.00" y="280.65" font-size="9.4" text-anchor="end" textLength="4.7" lengthAdjust="spacingAndGlyphs" class="n">0</text>
<text x="654.00" y="280.65" font-size="9.4" text-anchor="end" textLength="4.7" lengthAdjust="spacingAndGlyphs" class="n">0</text>
<text x="676.70" y="280.65" font-size="9.4" text-anchor="middle" textLength="16.4" lengthAdjust="spacingAndGlyphs" class="n">4.00</text>
<text x="717.70" y="280.65" font-size="9.4" text-anchor="middle" textLength="16.4" lengthAdjust="spacingAndGlyphs" class="n">3.73</text>
<text x="757.25" y="280.65" font-size="9.4" text-anchor="middle" textLength="16.4" lengthAdjust="spacingAndGlyphs" class="n">3.63</text>
<text x="82.45" y="302.09" font-size="9.4" text-anchor="middle" textLength="4.7" lengthAdjust="spacingAndGlyphs" class="n">7</text>
<text x="102.10" y="300.99" font-size="9.4" textLength="314.9" lengthAdjust="spacingAndGlyphs">この授業の学習内容や課題で分からないことがあった場合、どのように対処しましたか。</text>
<text x="457.00" y="302.09" font-size="9.4" text-anchor="end" textLength="4.7" lengthAdjust="spacingAndGlyphs" class="n">2</text>
<text x="490.00" y="302.09" font-size="9.4" text-anchor="end" textLength="4.7" lengthAdjust="spacingAndGlyphs" class="n">0</text>
<text x="523.00" y="302.09" font-size="9.4" text-anchor="end" textLength="4.7" lengthAdjust="spacingAndGlyphs" class="n">0</text>
<text x="556.00" y="302.09" font-size="9.4" text-anchor="end" textLength="4.7" lengthAdjust="spacingAndGlyphs" class="n">0</text>
<text x="588.90" y="302.09" font-size="9.4" text-anchor="end" textLength="4.7" lengthAdjust="spacingAndGlyphs" class="n">0</text>
<text x="654.00" y="302.09" font-size="9.4" text-anchor="end" textLength="4.7" lengthAdjust="spacingAndGlyphs" class="n">0</text>
<text x="82.45" y="323.54" font-size="9.4" text-anchor="middle" textLength="4.7" lengthAdjust="spacingAndGlyphs" class="n">8</text>
<text x="102.10" y="322.44" font-size="9.4" textLength="165.9" lengthAdjust="spacingAndGlyphs">教員は十分準備して授業に臨んでいましたか。</text>
<text x="457.00" y="323.54" font-size="9.4" text-anchor="end" textLength="4.7" lengthAdjust="spacingAndGlyphs" class="n">2</text>
<text x="490.00" y="323.54" font-size="9.4" text-anchor="end" textLength="4.7" lengthAdjust="spacingAndGlyphs" class="n">0</text>
<text x="523.00" y="323.54" font-size="9.4" text-anchor="end" textLength="4.7" lengthAdjust="spacingAndGlyphs" class="n">0</text>
<text x="556.00" y="323.54" font-size="9.4" text-anchor="end" textLength="4.7" lengthAdjust="spacingAndGlyphs" class="n">0</text>
<text x="654.00" y="323.54" font-size="9.4" text-anchor="end" textLength="4.7" lengthAdjust="spacingAndGlyphs" class="n">0</text>
<text x="676.70" y="323.54" font-size="9.4" text-anchor="middle" textLength="16.4" lengthAdjust="spacingAndGlyphs" class="n">4.00</text>
<text x="717.70" y="323.54" font-size="9.4" text-anchor="middle" textLength="16.4" lengthAdjust="spacingAndGlyphs" class="n">3.86</text>
<text x="757.25" y="323.54" font-size="9.4" text-anchor="middle" textLength="16.4" lengthAdjust="spacingAndGlyphs" class="n">3.78</text>
<text x="82.45" y="344.98" font-size="9.4" text-anchor="middle" textLength="4.7" lengthAdjust="spacingAndGlyphs" class="n">9</text>
<text x="102.10" y="343.88" font-size="9.4" textLength="173.9" lengthAdjust="spacingAndGlyphs">教員の説明の仕方は分かりやすかったですか。</text>
<text x="457.00" y="344.98" font-size="9.4" text-anchor="end" textLength="4.7" lengthAdjust="spacingAndGlyphs" class="n">2</text>
<text x="490.00" y="344.98" font-size="9.4" text-anchor="end" textLength="4.7" lengthAdjust="spacingAndGlyphs" class="n">0</text>
<text x="523.00" y="344.98" font-size="9.4" text-anchor="end" textLength="4.7" lengthAdjust="spacingAndGlyphs" class="n">0</text>
<text x="556.00" y="344.98" font-size="9.4" text-anchor="end" textLength="4.7" lengthAdjust="spacingAndGlyphs" class="n">0</text>
<text x="654.00" y="344.98" font-size="9.4" text-anchor="end" textLength="4.7" lengthAdjust="spacingAndGlyphs" class="n">0</text>
<text x="676.70" y="344.98" font-size="9.4" text-anchor="middle" textLength="16.4" lengthAdjust="spacingAndGlyphs" class="n">4.00</text>
<text x="717.70" y="344.98" font-size="9.4" text-anchor="middle" textLength="16.4" lengthAdjust="spacingAndGlyphs" class="n">3.78</text>
<text x="757.25" y="344.98" font-size="9.4" text-anchor="middle" textLength="16.4" lengthAdjust="spacingAndGlyphs" class="n">3.68</text>
<text x="82.45" y="366.42" font-size="9.4" text-anchor="middle" textLength="9.4" lengthAdjust="spacingAndGlyphs" class="n">10</text>
<text x="102.10" y="365.32" font-size="9.4" textLength="178.9" lengthAdjust="spacingAndGlyphs">教員の声や話し方は聞き取りやすかったですか。</text>
<text x="457.00" y="366.42" font-size="9.4" text-anchor="end" textLength="4.7" lengthAdjust="spacingAndGlyphs" class="n">2</text>
<text x="490.00" y="366.42" font-size="9.4" text-anchor="end" textLength="4.7" lengthAdjust="spacingAndGlyphs" class="n">0</text>
<text x="523.00" y="366.42" font-size="9.4" text-anchor="end" textLength="4.7" lengthAdjust="spacingAndGlyphs" class="n">0</text>
<text x="556.00" y="366.42" font-size="9.4" text-anchor="end" textLength="4.7" lengthAdjust="spacingAndGlyphs" class="n">0</text>
<text x="654.00" y="366.42" font-size="9.4" text-anchor="end" textLength="4.7" lengthAdjust="spacingAndGlyphs" class="n">0</text>
<text x="676.70" y="366.42" font-size="9.4" text-anchor="middle" textLength="16.4" lengthAdjust="spacingAndGlyphs" class="n">4.00</text>
<text x="717.70" y="366.42" font-size="9.4" text-anchor="middle" textLength="16.4" lengthAdjust="spacingAndGlyphs" class="n">3.82</text>
<text x="757.25" y="366.42" font-size="9.4" text-anchor="middle" textLength="16.4" lengthAdjust="spacingAndGlyphs" class="n">3.74</text>
<text x="82.45" y="387.87" font-size="9.4" text-anchor="middle" textLength="9.4" lengthAdjust="spacingAndGlyphs" class="n">11</text>
<text x="102.10" y="385.48" font-size="5.6" textLength="319.6" lengthAdjust="spacingAndGlyphs" class="n">板書、配付資料、スライド、DVD等の理解を助けるための工夫は効果がありましたか。（スポーツ実習は、「該当しない」を選んでください）</text>
<text x="457.00" y="387.87" font-size="9.4" text-anchor="end" textLength="4.7" lengthAdjust="spacingAndGlyphs" class="n">1</text>
<text x="490.00" y="387.87" font-size="9.4" text-anchor="end" textLength="4.7" lengthAdjust="spacingAndGlyphs" class="n">1</text>
<text x="523.00" y="387.87" font-size="9.4" text-anchor="end" textLength="4.7" lengthAdjust="spacingAndGlyphs" class="n">0</text>
<text x="556.00" y="387.87" font-size="9.4" text-anchor="end" textLength="4.7" lengthAdjust="spacingAndGlyphs" class="n">0</text>
<text x="588.90" y="387.87" font-size="9.4" text-anchor="end" textLength="4.7" lengthAdjust="spacingAndGlyphs" class="n">0</text>
<text x="654.00" y="387.87" font-size="9.4" text-anchor="end" textLength="4.7" lengthAdjust="spacingAndGlyphs" class="n">0</text>
<text x="676.70" y="387.87" font-size="9.4" text-anchor="middle" textLength="16.4" lengthAdjust="spacingAndGlyphs" class="n">3.50</text>
<text x="717.70" y="387.87" font-size="9.4" text-anchor="middle" textLength="16.4" lengthAdjust="spacingAndGlyphs" class="n">3.78</text>
<text x="757.25" y="387.87" font-size="9.4" text-anchor="middle" textLength="16.4" lengthAdjust="spacingAndGlyphs" class="n">3.73</text>
<text x="82.45" y="409.31" font-size="9.4" text-anchor="middle" textLength="9.4" lengthAdjust="spacingAndGlyphs" class="n">12</text>
<text x="102.10" y="407.09" font-size="6.1" textLength="323.3" lengthAdjust="spacingAndGlyphs" class="n">教員は学生に質問や発言の機会を与えたり、課題のフィードバックをするなどして、双方向的な授業を心がけていましたか。</text>
<text x="457.00" y="409.31" font-size="9.4" text-anchor="end" textLength="4.7" lengthAdjust="spacingAndGlyphs" class="n">2</text>
<text x="490.00" y="409.31" font-size="9.4" text-anchor="end" textLength="4.7" lengthAdjust="spacingAndGlyphs" class="n">0</text>
<text x="523.00" y="409.31" font-size="9.4" text-anchor="end" textLength="4.7" lengthAdjust="spacingAndGlyphs" class="n">0</text>
<text x="556.00" y="409.31" font-size="9.4" text-anchor="end" textLength="4.7" lengthAdjust="spacingAndGlyphs" class="n">0</text>
<text x="654.00" y="409.31" font-size="9.4" text-anchor="end" textLength="4.7" lengthAdjust="spacingAndGlyphs" class="n">0</text>
<text x="676.70" y="409.31" font-size="9.4" text-anchor="middle" textLength="16.4" lengthAdjust="spacingAndGlyphs" class="n">4.00</text>
<text x="717.70" y="409.31" font-size="9.4" text-anchor="middle" textLength="16.4" lengthAdjust="spacingAndGlyphs" class="n">3.86</text>
<text x="757.25" y="409.31" font-size="9.4" text-anchor="middle" textLength="16.4" lengthAdjust="spacingAndGlyphs" class="n">3.67</text>
<text x="82.45" y="430.76" font-size="9.4" text-anchor="middle" textLength="9.4" lengthAdjust="spacingAndGlyphs" class="n">13</text>
<text x="102.10" y="429.66" font-size="9.4" textLength="165.9" lengthAdjust="spacingAndGlyphs">教員は良い授業環境を保つよう努めましたか。</text>
<text x="457.00" y="430.76" font-size="9.4" text-anchor="end" textLength="4.7" lengthAdjust="spacingAndGlyphs" class="n">1</text>
<text x="490.00" y="430.76" font-size="9.4" text-anchor="end" textLength="4.7" lengthAdjust="spacingAndGlyphs" class="n">1</text>
<text x="523.00" y="430.76" font-size="9.4" text-anchor="end" textLength="4.7" lengthAdjust="spacingAndGlyphs" class="n">0</text>
<text x="556.00" y="430.76" font-size="9.4" text-anchor="end" textLength="4.7" lengthAdjust="spacingAndGlyphs" class="n">0</text>
<text x="654.00" y="430.76" font-size="9.4" text-anchor="end" textLength="4.7" lengthAdjust="spacingAndGlyphs" class="n">0</text>
<text x="676.70" y="430.76" font-size="9.4" text-anchor="middle" textLength="16.4" lengthAdjust="spacingAndGlyphs" class="n">3.50</text>
<text x="717.70" y="430.76" font-size="9.4" text-anchor="middle" textLength="16.4" lengthAdjust="spacingAndGlyphs" class="n">3.86</text>
<text x="757.25" y="430.76" font-size="9.4" text-anchor="middle" textLength="16.4" lengthAdjust="spacingAndGlyphs" class="n">3.75</text>
<text x="82.45" y="452.20" font-size="9.4" text-anchor="middle" textLength="9.4" lengthAdjust="spacingAndGlyphs" class="n">14</text>
<text x="102.10" y="451.10" font-size="9.4" textLength="228.9" lengthAdjust="spacingAndGlyphs">この授業はシラバスの内容を踏まえたものとなっていましたか。</text>
<text x="457.00" y="452.20" font-size="9.4" text-anchor="end" textLength="4.7" lengthAdjust="spacingAndGlyphs" class="n">1</text>
<text x="490.00" y="452.20" font-size="9.4" text-anchor="end" textLength="4.7" lengthAdjust="spacingAndGlyphs" class="n">1</text>
<text x="523.00" y="452.20" font-size="9.4" text-anchor="end" textLength="4.7" lengthAdjust="spacingAndGlyphs" class="n">0</text>
<text x="556.00" y="452.20" font-size="9.4" text-anchor="end" textLength="4.7" lengthAdjust="spacingAndGlyphs" class="n">0</text>
<text x="654.00" y="452.20" font-size="9.4" text-anchor="end" textLength="4.7" lengthAdjust="spacingAndGlyphs" class="n">0</text>
<text x="676.70" y="452.20" font-size="9.4" text-anchor="middle" textLength="16.4" lengthAdjust="spacingAndGlyphs" class="n">3.50</text>
<text x="717.70" y="452.20" font-size="9.4" text-anchor="middle" textLength="16.4" lengthAdjust="spacingAndGlyphs" class="n">3.84</text>
<text x="757.25" y="452.20" font-size="9.4" text-anchor="middle" textLength="16.4" lengthAdjust="spacingAndGlyphs" class="n">3.74</text>
<text x="82.45" y="473.64" font-size="9.4" text-anchor="middle" textLength="9.4" lengthAdjust="spacingAndGlyphs" class="n">15</text>
<text x="102.10" y="472.54" font-size="9.4" textLength="111.4" lengthAdjust="spacingAndGlyphs">授業内容は理解できましたか。</text>
<text x="457.00" y="473.64" font-size="9.4" text-anchor="end" textLength="4.7" lengthAdjust="spacingAndGlyphs" class="n">2</text>
<text x="490.00" y="473.64" font-size="9.4" text-anchor="end" textLength="4.7" lengthAdjust="spacingAndGlyphs" class="n">0</text>
<text x="523.00" y="473.64" font-size="9.4" text-anchor="end" textLength="4.7" lengthAdjust="spacingAndGlyphs" class="n">0</text>
<text x="556.00" y="473.64" font-size="9.4" text-anchor="end" textLength="4.7" lengthAdjust="spacingAndGlyphs" class="n">0</text>
<text x="654.00" y="473.64" font-size="9.4" text-anchor="end" textLength="4.7" lengthAdjust="spacingAndGlyphs" class="n">0</text>
<text x="676.70" y="473.64" font-size="9.4" text-anchor="middle" textLength="16.4" lengthAdjust="spacingAndGlyphs" class="n">4.00</text>
<text x="717.70" y="473.64" font-size="9.4" text-anchor="middle" textLength="16.4" lengthAdjust="spacingAndGlyphs" class="n">3.70</text>
<text x="757.25" y="473.64" font-size="9.4" text-anchor="middle" textLength="16.4" lengthAdjust="spacingAndGlyphs" class="n">3.59</text>
<text x="82.45" y="495.09" font-size="9.4" text-anchor="middle" textLength="9.4" lengthAdjust="spacingAndGlyphs" class="n">16</text>
<text x="102.10" y="493.99" font-size="9.4" textLength="150.9" lengthAdjust="spacingAndGlyphs">この授業レベルについて、適切でしたか。</text>
<text x="457.00" y="495.09" font-size="9.4" text-anchor="end" textLength="4.7" lengthAdjust="spacingAndGlyphs" class="n">1</text>
<text x="490.00" y="495.09" font-size="9.4" text-anchor="end" textLength="4.7" lengthAdjust="spacingAndGlyphs" class="n">1</text>
<text x="523.00" y="495.09" font-size="9.4" text-anchor="end" textLength="4.7" lengthAdjust="spacingAndGlyphs" class="n">0</text>
<text x="556.00" y="495.09" font-size="9.4" text-anchor="end" textLength="4.7" lengthAdjust="spacingAndGlyphs" class="n">0</text>
<text x="654.00" y="495.09" font-size="9.4" text-anchor="end" textLength="4.7" lengthAdjust="spacingAndGlyphs" class="n">0</text>
<text x="676.70" y="495.09" font-size="9.4" text-anchor="middle" textLength="16.4" lengthAdjust="spacingAndGlyphs" class="n">3.50</text>
<text x="717.70" y="495.09" font-size="9.4" text-anchor="middle" textLength="16.4" lengthAdjust="spacingAndGlyphs" class="n">3.73</text>
<text x="757.25" y="495.09" font-size="9.4" text-anchor="middle" textLength="16.4" lengthAdjust="spacingAndGlyphs" class="n">3.64</text>
<text x="82.45" y="516.53" font-size="9.4" text-anchor="middle" textLength="9.4" lengthAdjust="spacingAndGlyphs" class="n">17</text>
<text x="102.10" y="515.43" font-size="9.4" textLength="150.9" lengthAdjust="spacingAndGlyphs">この授業の進度について、適切でしたか。</text>
<text x="457.00" y="516.53" font-size="9.4" text-anchor="end" textLength="4.7" lengthAdjust="spacingAndGlyphs" class="n">1</text>
<text x="490.00" y="516.53" font-size="9.4" text-anchor="end" textLength="4.7" lengthAdjust="spacingAndGlyphs" class="n">1</text>
<text x="523.00" y="516.53" font-size="9.4" text-anchor="end" textLength="4.7" lengthAdjust="spacingAndGlyphs" class="n">0</text>
<text x="556.00" y="516.53" font-size="9.4" text-anchor="end" textLength="4.7" lengthAdjust="spacingAndGlyphs" class="n">0</text>
<text x="654.00" y="516.53" font-size="9.4" text-anchor="end" textLength="4.7" lengthAdjust="spacingAndGlyphs" class="n">0</text>
<text x="676.70" y="516.53" font-size="9.4" text-anchor="middle" textLength="16.4" lengthAdjust="spacingAndGlyphs" class="n">3.50</text>
<text x="717.70" y="516.53" font-size="9.4" text-anchor="middle" textLength="16.4" lengthAdjust="spacingAndGlyphs" class="n">3.76</text>
<text x="757.25" y="516.53" font-size="9.4" text-anchor="middle" textLength="16.4" lengthAdjust="spacingAndGlyphs" class="n">3.69</text>
<text x="82.45" y="537.97" font-size="9.4" text-anchor="middle" textLength="9.4" lengthAdjust="spacingAndGlyphs" class="n">18</text>
<text x="102.10" y="536.87" font-size="9.4" textLength="173.9" lengthAdjust="spacingAndGlyphs">授業内容について総合的に満足できましたか。</text>
<text x="457.00" y="537.97" font-size="9.4" text-anchor="end" textLength="4.7" lengthAdjust="spacingAndGlyphs" class="n">2</text>
<text x="490.00" y="537.97" font-size="9.4" text-anchor="end" textLength="4.7" lengthAdjust="spacingAndGlyphs" class="n">0</text>
<text x="523.00" y="537.97" font-size="9.4" text-anchor="end" textLength="4.7" lengthAdjust="spacingAndGlyphs" class="n">0</text>
<text x="556.00" y="537.97" font-size="9.4" text-anchor="end" textLength="4.7" lengthAdjust="spacingAndGlyphs" class="n">0</text>
<text x="654.00" y="537.97" font-size="9.4" text-anchor="end" textLength="4.7" lengthAdjust="spacingAndGlyphs" class="n">0</text>
<text x="676.70" y="537.97" font-size="9.4" text-anchor="middle" textLength="16.4" lengthAdjust="spacingAndGlyphs" class="n">4.00</text>
<text x="717.70" y="537.97" font-size="9.4" text-anchor="middle" textLength="16.4" lengthAdjust="spacingAndGlyphs" class="n">3.82</text>
<text x="757.25" y="537.97" font-size="9.4" text-anchor="middle" textLength="16.4" lengthAdjust="spacingAndGlyphs" class="n">3.69</text>
<text x="44.30" y="247.46" font-size="9.4" text-anchor="middle" textLength="27.2" lengthAdjust="spacingAndGlyphs">あなた</text>
<text x="44.30" y="258.46" font-size="9.4" text-anchor="middle" textLength="27.2" lengthAdjust="spacingAndGlyphs">自身に</text>
<text x="44.30" y="269.46" font-size="9.4" text-anchor="middle" textLength="27.2" lengthAdjust="spacingAndGlyphs">ついて</text>
<text x="44.30" y="365.40" font-size="9.4" text-anchor="middle" textLength="27.2" lengthAdjust="spacingAndGlyphs">担当教</text>
<text x="44.30" y="376.40" font-size="9.4" text-anchor="middle" textLength="27.2" lengthAdjust="spacingAndGlyphs">員につ</text>
<text x="44.30" y="387.40" font-size="9.4" text-anchor="middle" textLength="18.1" lengthAdjust="spacingAndGlyphs">いて</text>
<text x="44.30" y="488.84" font-size="9.4" text-anchor="middle" textLength="27.2" lengthAdjust="spacingAndGlyphs">授業に</text>
<text x="44.30" y="499.84" font-size="9.4" text-anchor="middle" textLength="27.2" lengthAdjust="spacingAndGlyphs">ついて</text>
<text x="310.60" y="577.30" font-size="14.7" textLength="85.0" lengthAdjust="spacingAndGlyphs" class="n" fill="#5a5a5a">設問№8～18</text>
<text x="410.60" y="577.30" font-size="14.7" textLength="76.0" lengthAdjust="spacingAndGlyphs" class="n" fill="#5a5a5a">回答率一覧</text>
<text x="53.30" y="772.36" font-size="9" text-anchor="end" class="n" fill="#5a5a5a">0%</text>
<text x="53.30" y="755.30" font-size="9" text-anchor="end" class="n" fill="#5a5a5a">10%</text>
<text x="53.30" y="738.24" font-size="9" text-anchor="end" class="n" fill="#5a5a5a">20%</text>
<text x="53.30" y="721.18" font-size="9" text-anchor="end" class="n" fill="#5a5a5a">30%</text>
<text x="53.30" y="704.12" font-size="9" text-anchor="end" class="n" fill="#5a5a5a">40%</text>
<text x="53.30" y="687.06" font-size="9" text-anchor="end" class="n" fill="#5a5a5a">50%</text>
<text x="53.30" y="670.00" font-size="9" text-anchor="end" class="n" fill="#5a5a5a">60%</text>
<text x="53.30" y="652.94" font-size="9" text-anchor="end" class="n" fill="#5a5a5a">70%</text>
<text x="53.30" y="635.88" font-size="9" text-anchor="end" class="n" fill="#5a5a5a">80%</text>
<text x="53.30" y="618.82" font-size="9" text-anchor="end" class="n" fill="#5a5a5a">90%</text>
<text x="53.30" y="601.76" font-size="9" text-anchor="end" class="n" fill="#5a5a5a">100%</text>
<text x="760.00" y="772.36" font-size="9" class="n" fill="#5a5a5a">1</text>
<text x="760.00" y="715.49" font-size="9" class="n" fill="#5a5a5a">2</text>
<text x="760.00" y="658.63" font-size="9" class="n" fill="#5a5a5a">3</text>
<text x="760.00" y="601.76" font-size="9" class="n" fill="#5a5a5a">4</text>
<text x="93.42" y="784.66" font-size="9" text-anchor="middle" class="n" fill="#5a5a5a">8</text>
<text x="156.07" y="784.66" font-size="9" text-anchor="middle" class="n" fill="#5a5a5a">9</text>
<text x="218.71" y="784.66" font-size="9" text-anchor="middle" class="n" fill="#5a5a5a">10</text>
<text x="281.36" y="784.66" font-size="9" text-anchor="middle" class="n" fill="#5a5a5a">11</text>
<text x="344.00" y="784.66" font-size="9" text-anchor="middle" class="n" fill="#5a5a5a">12</text>
<text x="406.65" y="784.66" font-size="9" text-anchor="middle" class="n" fill="#5a5a5a">13</text>
<text x="469.30" y="784.66" font-size="9" text-anchor="middle" class="n" fill="#5a5a5a">14</text>
<text x="531.94" y="784.66" font-size="9" text-anchor="middle" class="n" fill="#5a5a5a">15</text>
<text x="594.59" y="784.66" font-size="9" text-anchor="middle" class="n" fill="#5a5a5a">16</text>
<text x="657.23" y="784.66" font-size="9" text-anchor="middle" class="n" fill="#5a5a5a">17</text>
<text x="719.88" y="784.66" font-size="9" text-anchor="middle" class="n" fill="#5a5a5a">18</text>
<text x="290.60" y="806.02" font-size="8.6" class="n" fill="#5a5a5a">A</text>
<text x="328.60" y="806.02" font-size="8.6" class="n" fill="#5a5a5a">B</text>
<text x="366.20" y="806.02" font-size="8.6" class="n" fill="#5a5a5a">C</text>
<text x="404.20" y="806.02" font-size="8.6" class="n" fill="#5a5a5a">D</text>
<text x="443.00" y="806.36" font-size="9.6" textLength="19.2" lengthAdjust="spacingAndGlyphs" class="n" fill="#5a5a5a">平均</text>
<text x="495.00" y="806.36" font-size="9.6" textLength="38.4" lengthAdjust="spacingAndGlyphs" class="n" fill="#5a5a5a">全体平均</text>
<text x="26.40" y="839.86" font-size="8.4" textLength="47.3" lengthAdjust="spacingAndGlyphs">選択肢一覧</text>
<text x="45.20" y="853.70" font-size="9.4" text-anchor="middle" textLength="30.2" lengthAdjust="spacingAndGlyphs" class="w">設問No.</text>
<text x="136.97" y="853.49" font-size="8.8" text-anchor="middle" class="w">A</text>
<text x="282.10" y="853.49" font-size="8.8" text-anchor="middle" class="w">B</text>
<text x="407.50" y="853.49" font-size="8.8" text-anchor="middle" class="w">C</text>
<text x="509.50" y="853.49" font-size="8.8" text-anchor="middle" class="w">D</text>
<text x="608.50" y="853.49" font-size="8.8" text-anchor="middle" class="w">E</text>
<text x="716.85" y="853.49" font-size="8.8" text-anchor="middle" class="w">F</text>
<text x="44.20" y="871.60" font-size="9.4" text-anchor="middle" textLength="4.7" lengthAdjust="spacingAndGlyphs" class="n">3</text>
<text x="65.95" y="871.06" font-size="8.7" textLength="130.8" lengthAdjust="spacingAndGlyphs">必修または必要な単位を満たすため</text>
<text x="210.40" y="871.06" font-size="8.7" textLength="99.3" lengthAdjust="spacingAndGlyphs">資格や就活に役立てるため</text>
<text x="356.20" y="871.06" font-size="8.7" textLength="99.8" lengthAdjust="spacingAndGlyphs">シラバスを見て関心を持った</text>
<text x="461.20" y="871.06" font-size="8.7" textLength="95.3" lengthAdjust="spacingAndGlyphs">良い授業だと人から聞いた</text>
<text x="560.20" y="871.06" font-size="8.7" textLength="25.3" lengthAdjust="spacingAndGlyphs">その他</text>
<text x="44.20" y="892.85" font-size="9.4" text-anchor="middle" textLength="4.7" lengthAdjust="spacingAndGlyphs" class="n">4</text>
<text x="65.95" y="892.31" font-size="8.7" textLength="34.3" lengthAdjust="spacingAndGlyphs">全部出席</text>
<text x="210.40" y="892.31" font-size="8.7" textLength="38.8" lengthAdjust="spacingAndGlyphs">1-2回欠席</text>
<text x="356.20" y="892.31" font-size="8.7" textLength="38.8" lengthAdjust="spacingAndGlyphs">3-4回欠席</text>
<text x="461.20" y="892.31" font-size="8.7" textLength="46.8" lengthAdjust="spacingAndGlyphs">5回以上欠席</text>
<text x="44.20" y="914.25" font-size="9.4" text-anchor="middle" textLength="4.7" lengthAdjust="spacingAndGlyphs" class="n">5</text>
<text x="65.95" y="913.71" font-size="8.7" textLength="38.8" lengthAdjust="spacingAndGlyphs">3時間以上</text>
<text x="210.40" y="913.71" font-size="8.7" textLength="38.8" lengthAdjust="spacingAndGlyphs">2時間程度</text>
<text x="356.20" y="913.71" font-size="8.7" textLength="38.8" lengthAdjust="spacingAndGlyphs">1時間程度</text>
<text x="461.20" y="913.71" font-size="8.7" textLength="34.3" lengthAdjust="spacingAndGlyphs">30分程度</text>
<text x="560.20" y="913.71" font-size="8.7" textLength="51.3" lengthAdjust="spacingAndGlyphs">全くしていない</text>
<text x="44.20" y="945.20" font-size="9.4" text-anchor="middle" textLength="4.7" lengthAdjust="spacingAndGlyphs" class="n">6</text>
<text x="44.20" y="956.50" font-size="9.4" text-anchor="middle" textLength="18.8" lengthAdjust="spacingAndGlyphs" class="n">8-10</text>
<text x="44.20" y="967.80" font-size="9.4" text-anchor="middle" textLength="23.5" lengthAdjust="spacingAndGlyphs" class="n">14-18</text>
<text x="65.95" y="955.96" font-size="8.7" textLength="42.8" lengthAdjust="spacingAndGlyphs">強くそう思う</text>
<text x="210.40" y="955.96" font-size="8.7" textLength="45.3" lengthAdjust="spacingAndGlyphs">まあそう思う</text>
<text x="356.20" y="955.96" font-size="8.7" textLength="68.8" lengthAdjust="spacingAndGlyphs">あまりそう思わない</text>
<text x="461.20" y="955.96" font-size="8.7" textLength="60.8" lengthAdjust="spacingAndGlyphs">全くそう思わない</text>
<text x="44.20" y="998.75" font-size="9.4" text-anchor="middle" textLength="4.7" lengthAdjust="spacingAndGlyphs" class="n">7</text>
<text x="65.95" y="998.21" font-size="8.7" textLength="49.3" lengthAdjust="spacingAndGlyphs">教員に教わる</text>
<text x="210.40" y="998.21" font-size="8.7" textLength="75.8" lengthAdjust="spacingAndGlyphs">友人や先輩に教わる</text>
<text x="356.20" y="993.41" font-size="8.7" textLength="73.8" lengthAdjust="spacingAndGlyphs">本やインターネットで</text>
<text x="356.20" y="1003.01" font-size="8.7" textLength="58.8" lengthAdjust="spacingAndGlyphs">独力で解決する</text>
<text x="461.20" y="998.21" font-size="8.7" textLength="71.8" lengthAdjust="spacingAndGlyphs">特に対処しなかった</text>
<text x="560.20" y="998.21" font-size="8.7" textLength="25.3" lengthAdjust="spacingAndGlyphs">その他</text>
<text x="44.20" y="1020.25" font-size="9.4" text-anchor="middle" textLength="9.4" lengthAdjust="spacingAndGlyphs" class="n">11</text>
<text x="65.95" y="1019.71" font-size="8.7" textLength="42.8" lengthAdjust="spacingAndGlyphs">強くそう思う</text>
<text x="210.40" y="1019.71" font-size="8.7" textLength="45.3" lengthAdjust="spacingAndGlyphs">まあそう思う</text>
<text x="356.20" y="1019.71" font-size="8.7" textLength="68.8" lengthAdjust="spacingAndGlyphs">あまりそう思わない</text>
<text x="461.20" y="1019.71" font-size="8.7" textLength="60.8" lengthAdjust="spacingAndGlyphs">全くそう思わない</text>
<text x="560.20" y="1019.71" font-size="8.7" textLength="39.3" lengthAdjust="spacingAndGlyphs">該当しない</text>
<text x="681.00" y="1043.63" font-size="14.8" textLength="91.5" lengthAdjust="spacingAndGlyphs" class="b2">敬和学園大学</text>
</svg>
</body>
</html>
